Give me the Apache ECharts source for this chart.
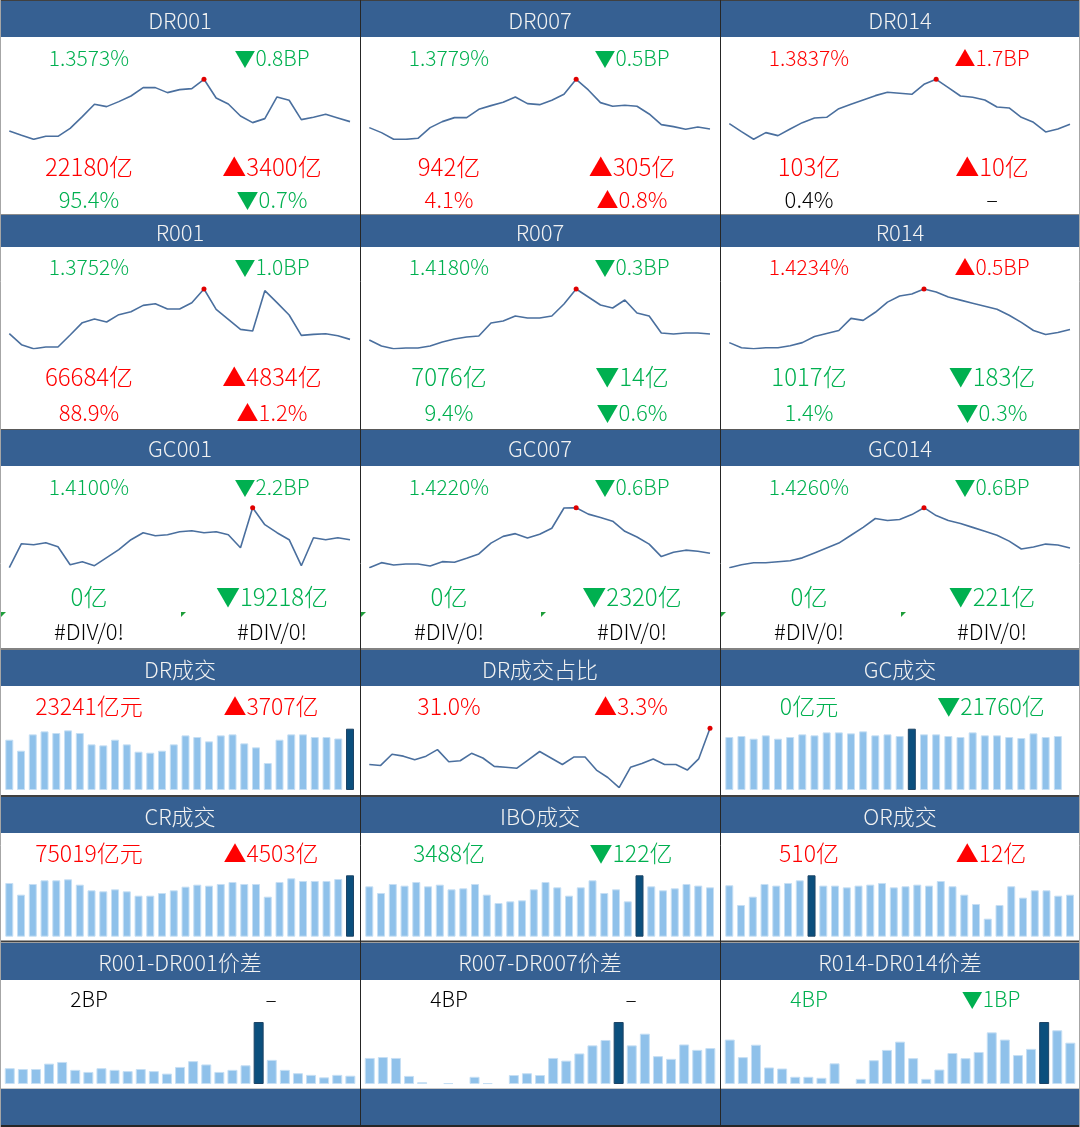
<!DOCTYPE html>
<html>
<head>
<meta charset="utf-8">
<script src="https://cdn.jsdelivr.net/npm/echarts@6/dist/echarts.min.js"></script>
<style>
  html, body { margin: 0; padding: 0; background: #fff; }
  #main { width: 1080px; height: 1127px; }
</style>
</head>
<body>
<div id="main"></div>
<script>
// sparkline levels (axis hidden, scaled min..max like Excel sparklines)
const dr001Trend = [25, 12, 0, 9, 9, 33, 68, 105, 98, 113, 130, 155, 155, 140, 149, 152, 180, 124, 106, 70, 50, 62, 127, 117, 59, 66, 75, 64, 53]
const dr007Trend = [35, 20, 0, 0, 3, 35, 53, 65, 65, 90, 101, 111, 127, 107, 104, 117, 135, 180, 148, 110, 99, 102, 99, 76, 44, 38, 30, 37, 31]
const dr014Trend = [47, 23, 0, 20, 11, 31, 50, 64, 66, 92, 105, 118, 131, 141, 138, 135, 165, 180, 155, 130, 126, 118, 97, 94, 66, 51, 22, 31, 45]
const r001Trend = [45, 12, 0, 5, 5, 41, 78, 89, 80, 102, 111, 130, 135, 119, 119, 138, 179, 118, 88, 58, 53, 174, 138, 101, 40, 43, 45, 39, 28]
const r007Trend = [26, 8, 0, 2, 2, 8, 20, 29, 35, 38, 77, 83, 98, 92, 92, 98, 134, 179, 155, 131, 122, 146, 107, 98, 47, 44, 47, 47, 44]
const r014Trend = [6, 1, 0, 1, 1, 3, 6, 12, 15, 18, 30, 28, 36, 46, 52, 54, 59, 56, 51, 48, 45, 42, 39, 33, 26, 18, 14, 16, 19]
const gc001Trend = [0, 24, 23, 25, 21, 3, 6, 2, 10, 18, 28, 35, 32, 33, 36, 37, 35, 36, 33, 20, 60, 43, 35, 28, 2, 30, 28, 30, 28]
const gc007Trend = [0, 15, 8, 11, 11, 5, 18, 16, 28, 41, 73, 93, 101, 88, 99, 117, 177, 178, 159, 149, 138, 108, 91, 70, 33, 46, 52, 49, 43]
const gc014Trend = [0, 3, 5, 5, 6, 7, 10, 15, 20, 25, 33, 41, 50, 48, 49, 54, 61, 53, 48, 45, 41, 37, 33, 27, 19, 21, 24, 23, 20]

// 成交 (亿) and DR成交占比 (%)
const drVolume = [19070, 14900, 21090, 22230, 21600, 22610, 21600, 17300, 16920, 19070, 17300, 14530, 14150, 14900, 17300, 20710, 20080, 18440, 20710, 21090, 17680, 16170, 10230, 19070, 21090, 21090, 20080, 20080, 19534, 23241]
const drShare = [27.1, 27.0, 28.2, 28.0, 27.6, 28.0, 28.7, 27.4, 27.5, 28.3, 27.8, 26.9, 26.8, 26.7, 27.6, 28.5, 27.8, 27.1, 27.9, 27.9, 26.5, 25.7, 24.6, 26.8, 27.2, 27.7, 27.1, 27.1, 26.5, 27.7, 31.0]
const gcVolume = [21350, 21760, 20680, 22030, 20680, 21350, 22430, 22030, 23230, 23230, 22830, 23640, 22030, 22430, 21760, 24710, 22430, 22430, 21760, 21350, 23230, 22030, 22030, 21350, 20950, 22830, 21350, 21760, 0]
const crVolume = [65640, 51370, 64420, 68900, 68900, 70120, 63600, 56670, 55450, 57890, 55450, 50150, 50150, 53410, 56670, 61160, 63600, 62380, 64420, 66860, 64420, 64420, 48920, 66860, 71350, 68090, 68090, 68090, 70516, 75019]
const iboVolume = [3559, 3088, 3724, 3606, 3865, 3559, 3677, 3347, 3418, 3724, 2970, 2381, 2498, 2569, 3347, 3865, 3488, 2899, 3488, 3983, 3088, 3347, 2498, 4337, 3559, 3276, 3418, 3724, 3610, 3488]
const orVolume = [624, 385, 486, 640, 620, 652, 684, 745, 620, 620, 599, 620, 632, 652, 599, 612, 632, 620, 676, 612, 510, 397, 219, 385, 612, 474, 563, 563, 498, 510]

// 价差 (BP)
const spread001 = [3.8, 3.6, 3.6, 4.9, 5.3, 3.4, 2.9, 3.8, 3.4, 3.1, 3.6, 3.1, 2.5, 4.1, 5.5, 4.7, 2.9, 3.4, 4.5, 14.9, 5.8, 3.4, 2.6, 2.2, 1.6, 2.2, 2.0]
const spread007 = [2.9, 3.0, 2.9, 0.9, 0.2, 0, 0.1, 0, 0.8, 0.1, 0, 1.0, 1.2, 1.0, 2.9, 2.6, 3.4, 4.3, 4.9, 6.9, 4.3, 5.6, 3.1, 2.8, 4.4, 3.8, 4.0]
const spread014 = [4.3, 2.6, 3.8, 1.6, 1.5, 0.7, 0.7, 0.6, 2.0, 0, 0.5, 2.3, 3.3, 4.1, 2.5, 0.5, 1.4, 3.0, 2.5, 3.1, 5.0, 4.3, 2.8, 3.4, 6.0, 5.2, 4.0]

// labels
const lineTitles = ['DR001', 'DR007', 'DR014', 'R001', 'R007', 'R014', 'GC001', 'GC007', 'GC014']
const rateLabels = ['1.3573%', '1.3779%', '1.3837%', '1.3752%', '1.4180%', '1.4234%', '1.4100%', '1.4220%', '1.4260%']
const rateChanges = ['▼0.8BP', '▼0.5BP', '▲1.7BP', '▼1.0BP', '▼0.3BP', '▲0.5BP', '▼2.2BP', '▼0.6BP', '▼0.6BP']
const volumeLabels = ['22180亿', '942亿', '103亿', '66684亿', '7076亿', '1017亿', '0亿', '0亿', '0亿']
const volumeChanges = ['▲3400亿', '▲305亿', '▲10亿', '▲4834亿', '▼14亿', '▼183亿', '▼19218亿', '▼2320亿', '▼221亿']
const shareLabels = ['95.4%', '4.1%', '0.4%', '88.9%', '9.4%', '1.4%', '#DIV/0!', '#DIV/0!', '#DIV/0!']
const shareChanges = ['▼0.7%', '▲0.8%', '–', '▲1.2%', '▼0.6%', '▼0.3%', '#DIV/0!', '#DIV/0!', '#DIV/0!']

const dealTitles = ['DR成交', 'DR成交占比', 'GC成交', 'CR成交', 'IBO成交', 'OR成交']
const dealLabels = ['23241亿元', '31.0%', '0亿元', '75019亿元', '3488亿', '510亿']
const dealChanges = ['▲3707亿', '▲3.3%', '▼21760亿', '▲4503亿', '▼122亿', '▲12亿']

const spreadTitles = ['R001-DR001价差', 'R007-DR007价差', 'R014-DR014价差']
const spreadLabels = ['2BP', '4BP', '4BP']
const spreadChanges = ['–', '–', '▼1BP']

const rateTrends = [dr001Trend, dr007Trend, dr014Trend, r001Trend, r007Trend, r014Trend, gc001Trend, gc007Trend, gc014Trend]
const dealSeries = [drVolume, drShare, gcVolume, crVolume, iboVolume, orVolume]
const spreadSeries = [spread001, spread007, spread014]

// layout
const HEAD_BG = '#366092'
const LINE_COLOR = '#4a6f9e'
const BAR_LIGHT = '#8fc1ea'
const BAR_DARK = '#0b4f7d'
const FONT = "'Noto Sans CJK SC', 'Noto Sans', sans-serif"
const colX = [0, 360, 720]
const lineRows = [
  { headTop: 0, headH: 37, titleY: 20.5, y1: 58, y2: 167, y3: 200, top: 79.3, bottom: 139.3 },
  { headTop: 215, headH: 32, titleY: 232.5, y1: 267, y2: 377, y3: 413, top: 289, bottom: 348.7 },
  { headTop: 430, headH: 36, titleY: 449, y1: 487, y2: 597, y3: 632, top: 507.7, bottom: 567.7 }
]
const barRows = [
  { headTop: 650, headH: 36, titleY: 670, y1: 706, top: 728.7, bottom: 790 },
  { headTop: 797, headH: 36, titleY: 817, y1: 853, top: 875.3, bottom: 936.7 },
  { headTop: 943, headH: 37, titleY: 963, y1: 999, top: 1022, bottom: 1084 }
]

function colorOf(change) {
  if (change.startsWith('▲')) return '#ff0000'
  if (change.startsWith('▼')) return '#00b050'
  return '#000000'
}

const grids = []
const xAxes = []
const yAxes = []
const series = []
const graphics = []

function addLine(data, left, width, top, bottom) {
  const i = grids.length
  grids.push({ left, top, width, height: bottom - top })
  xAxes.push({ type: 'category', gridIndex: i, show: false, boundaryGap: false, data: data.map((_, k) => k) })
  yAxes.push({ type: 'value', gridIndex: i, show: false, min: 'dataMin', max: 'dataMax' })
  series.push({
    type: 'line',
    xAxisIndex: i,
    yAxisIndex: i,
    data,
    showSymbol: false,
    silent: true,
    lineStyle: { color: LINE_COLOR, width: 1.6 },
    markPoint: {
      symbol: 'circle',
      symbolSize: 5,
      silent: true,
      itemStyle: { color: '#e00000' },
      label: { show: false },
      data: [{ type: 'max' }]
    }
  })
}

function addBars(data, left, width, top, bottom, barWidth) {
  const i = grids.length
  const mx = Math.max(...data)
  grids.push({ left, top, width, height: bottom - top })
  xAxes.push({ type: 'category', gridIndex: i, show: false, data: data.map((_, k) => k) })
  yAxes.push({ type: 'value', gridIndex: i, show: false, min: 0, max: 'dataMax' })
  series.push({
    type: 'bar',
    xAxisIndex: i,
    yAxisIndex: i,
    barWidth,
    silent: true,
    itemStyle: { color: BAR_LIGHT, borderColor: '#c6dff4', borderWidth: 1 },
    data: data.map((v) => {
      if (v === mx) return { value: v, itemStyle: { color: BAR_DARK, borderColor: '#1d4466' } }
      if (v === 0) return { value: v, itemStyle: { borderWidth: 0 } }
      return v
    })
  })
}

function addText(text, x, y, size, color) {
  graphics.push({
    type: 'text',
    z: 10,
    style: { text, x, y, fill: color, font: '300 ' + size + 'px ' + FONT, textAlign: 'center', textVerticalAlign: 'middle' }
  })
}

function addHLine(y, color, w) {
  graphics.push({ type: 'line', z: 5, shape: { x1: 0, y1: y, x2: 1080, y2: y }, style: { stroke: color, lineWidth: w } })
}

// header bars
lineRows.concat(barRows).forEach((r) => {
  graphics.push({ type: 'rect', z: 1, shape: { x: 0, y: r.headTop, width: 1080, height: r.headH }, style: { fill: HEAD_BG } })
})
graphics.push({ type: 'rect', z: 1, shape: { x: 0, y: 1089, width: 1080, height: 37 }, style: { fill: HEAD_BG } })

// sparkline panels
lineTitles.forEach((title, k) => {
  const row = lineRows[Math.floor(k / 3)]
  const x0 = colX[k % 3]
  addText(title, x0 + 180, row.titleY, 22, '#f2f2f2')
  addText(rateLabels[k], x0 + 89, row.y1, 21, colorOf(rateChanges[k]))
  addText(rateChanges[k], x0 + 272, row.y1, 21, colorOf(rateChanges[k]))
  addText(volumeLabels[k], x0 + 89, row.y2, 24, colorOf(volumeChanges[k]))
  addText(volumeChanges[k], x0 + 272, row.y2, 24, colorOf(volumeChanges[k]))
  addText(shareLabels[k], x0 + 89, row.y3, 22, colorOf(shareChanges[k]))
  addText(shareChanges[k], x0 + 272, row.y3, 22, colorOf(shareChanges[k]))
  addLine(rateTrends[k], x0 + 9.3, 340.7, row.top, row.bottom)
})

// deal panels
dealTitles.forEach((title, k) => {
  const row = barRows[Math.floor(k / 3)]
  const x0 = colX[k % 3]
  addText(title, x0 + 180, row.titleY, 22, '#f2f2f2')
  addText(dealLabels[k], x0 + 89, row.y1, 23, colorOf(dealChanges[k]))
  addText(dealChanges[k], x0 + 271, row.y1, 23, colorOf(dealChanges[k]))
  const data = dealSeries[k]
  if (k === 1) {
    addLine(data, x0 + 9.3, 340.7, 728.3, 787.7)
  } else {
    const step = 340.7 / (data.length - 1)
    addBars(data, x0 + 9.3 - step / 2, step * data.length, row.top, row.bottom, 8)
  }
})

// spread panels
spreadTitles.forEach((title, k) => {
  const row = barRows[2]
  const x0 = colX[k]
  addText(title, x0 + 180, row.titleY, 22, '#f2f2f2')
  addText(spreadLabels[k], x0 + 89, row.y1, 21, colorOf(spreadChanges[k]))
  addText(spreadChanges[k], x0 + 271, row.y1, 21, colorOf(spreadChanges[k]))
  addBars(spreadSeries[k], x0 + 3.2, 353.7, row.top, row.bottom, 10)
})

// cell error markers
;[0, 180, 360, 540, 720, 900].forEach((x) => {
  graphics.push({ type: 'polygon', z: 6, shape: { points: [[x + 1, 612], [x + 6, 612], [x + 1, 617]] }, style: { fill: '#1e9e3a' } })
})

// frame lines
addHLine(0.5, '#404040', 1)
addHLine(214.5, '#8c8c8c', 1)
addHLine(429.5, '#595959', 1)
addHLine(649, '#595959', 1.5)
addHLine(796, '#404040', 2)
addHLine(941.5, '#404040', 2)
addHLine(1088.5, '#c8c8c8', 1)
addHLine(1126, '#262626', 2)
;[[0.5, '#a6a6a6'], [360.5, '#262626'], [720.5, '#262626'], [1079.5, '#a6a6a6']].forEach(([x, c]) => {
  graphics.push({ type: 'line', z: 5, shape: { x1: x, y1: 0, x2: x, y2: 1127 }, style: { stroke: c, lineWidth: 1 } })
})

const chart = echarts.init(document.getElementById('main'), null, { renderer: 'canvas' })
chart.setOption({
  animation: false,
  backgroundColor: '#ffffff',
  grid: grids,
  xAxis: xAxes,
  yAxis: yAxes,
  series,
  graphic: { elements: graphics }
})
</script>
</body>
</html>
